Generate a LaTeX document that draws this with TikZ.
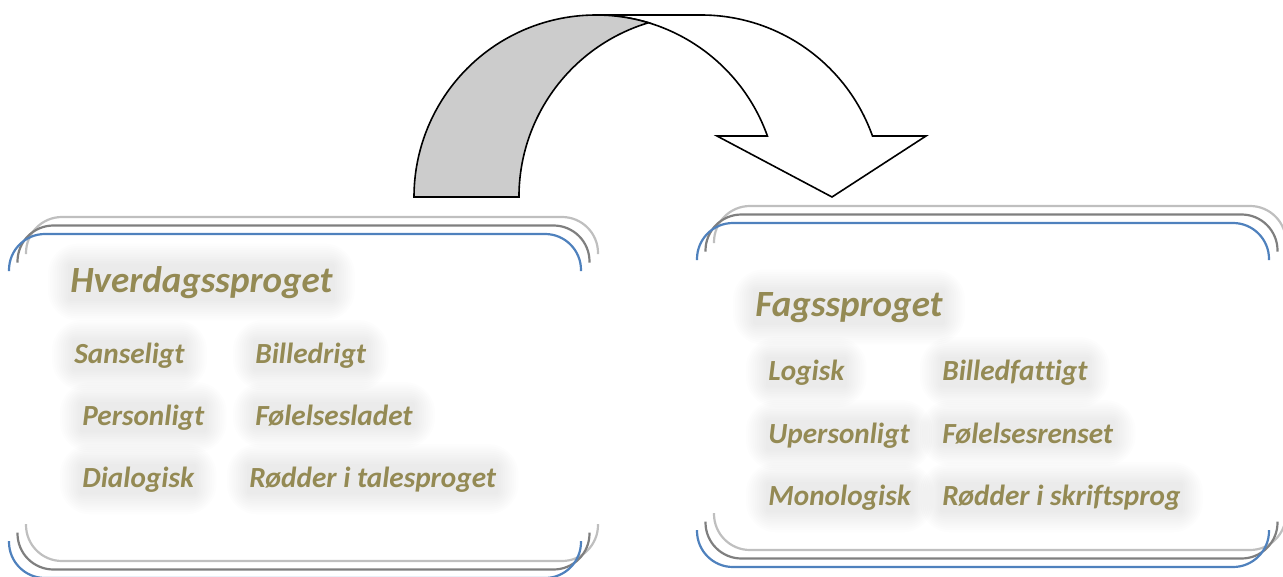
\documentclass[tikz,border=0pt]{standalone}
\usepackage{fontspec}
\setmainfont{Carlito}[Ligatures=NoCommon]
\usetikzlibrary{backgrounds}
\definecolor{oliv}{HTML}{948A54}
\definecolor{blau}{HTML}{4F81BD}
\definecolor{grau}{HTML}{7F7F7F}
\definecolor{hellgrau}{HTML}{BFBFBF}
\definecolor{pfeilgrau}{HTML}{CCCCCC}
\tikzset{
  rahmen/.style={line width=1.1pt, rounded corners=18pt},
  titel/.style={anchor=base west, inner sep=0pt, text=oliv, font=\fontsize{18.5}{21}\selectfont\bfseries\itshape},
  punkt/.style={anchor=base west, inner sep=0pt, text=oliv, font=\fontsize{14.6}{17}\selectfont\bfseries\itshape},
  pfeil/.style={line width=0.8pt, line join=miter}
}
\begin{document}
\begin{tikzpicture}[x=0.5pt, y=-0.5pt]
\useasboundingbox (0,0) rectangle (1283,577);

% Pfeil (weisses Band)
\draw[pfeil, fill=white] (767.4,136) arc[start angle=-19.58, end angle=-90, radius=182]
  -- (701,15) arc[start angle=-90, end angle=-19.58, radius=182]
  -- (926,136) -- (832,197) -- (717,136) -- cycle;
% Pfeil (graues Band)
\draw[pfeil, fill=pfeilgrau] (414,197) arc[start angle=180, end angle=286.76, radius=182]
  arc[start angle=253.24, end angle=180, radius=182] -- cycle;

% Rahmen
\foreach \xa/\xb/\ya/\yb in {9/581/234/578, 697/1269/223/567} {
  \foreach \i/\farbe in {2/hellgrau, 1/grau, 0/blau} {
    \begin{scope}[shift={(8.5*\i,-8.5*\i)}]
      \draw[rahmen, \farbe] (\xa,\ya+37) -- (\xa,\ya) -- (\xb,\ya) -- (\xb,\ya+37);
      \draw[rahmen, \farbe] (\xa,\yb-37) -- (\xa,\yb) -- (\xb,\yb) -- (\xb,\yb-37);
    \end{scope}
  }
}

% Hverdagssproget
\node[titel] (hverdag) at (70,292) {Hverdagssproget};
\node[punkt] (sanselig) at (74,363) {Sanseligt};
\node[punkt] (billedrig) at (255,363) {Billedrigt};
\node[punkt] (personlig) at (82,425) {Personligt};
\node[punkt] (foelladet) at (255,425) {Følelsesladet};
\node[punkt] (dialog) at (82,487) {Dialogisk};
\node[punkt] (tale) at (249,487) {Rødder i talesproget};

% Fagssproget
\node[titel] (fag) at (755,316) {Fagssproget};
\node[punkt] (logisk) at (768,380) {Logisk};
\node[punkt] (billedfattig) at (942,380) {Billedfattigt};
\node[punkt] (upersonlig) at (768,443) {Upersonligt};
\node[punkt] (foelrenset) at (942,443) {Følelsesrenset};
\node[punkt] (monolog) at (768,505) {Monologisk};
\node[punkt] (skrift) at (942,505) {Rødder i skriftsprog};

% Schatten hinter den Texten
\begin{scope}[on background layer]
  \foreach \n in {hverdag, sanselig, billedrig, personlig, foelladet, dialog, tale,
                  fag, logisk, billedfattig, upersonlig, foelrenset, monolog, skrift} {
    \foreach \k in {1,...,10} {
      \fill[black, opacity=0.006, rounded corners=1.5*\k pt]
        ([shift={(-1.1*\k pt,-1.1*\k pt)}]\n.south west) rectangle ([shift={(1.1*\k pt,1.1*\k pt)}]\n.north east);
    }
  }
\end{scope}
\end{tikzpicture}
\end{document}
